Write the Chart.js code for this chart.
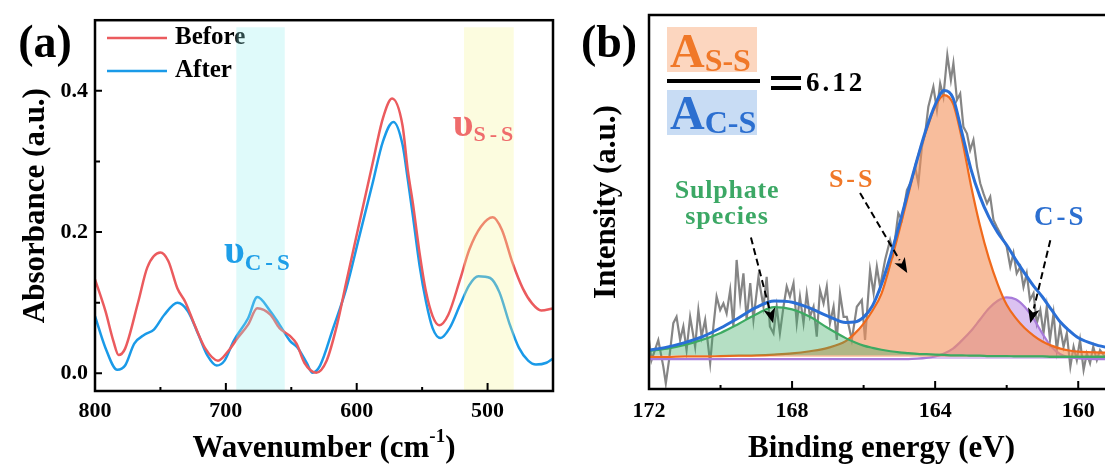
<!DOCTYPE html>
<html>
<head>
<meta charset="utf-8">
<script src="https://cdn.jsdelivr.net/npm/chart.js@4.4.1/dist/chart.umd.min.js"></script>
<style>
  html, body { margin: 0; padding: 0; background: #fff; overflow: hidden; }
  #wrap { position: relative; width: 1105px; height: 468px; overflow: hidden; }
  canvas { position: absolute; top: 0; }
  #chartA { left: 0; }
  #chartB { left: 560px; }
</style>
</head>
<body>
<div id="wrap">
  <canvas id="chartA" width="560" height="468"></canvas>
  <canvas id="chartB" width="560" height="468"></canvas>
</div>
<script>
const FONT = '"Liberation Serif", "Times New Roman", serif';
Chart.defaults.font.family = FONT;
Chart.defaults.font.weight = 'bold';
Chart.defaults.color = '#000';

// (a) FTIR spectra
const waveBefore = [800,792,786,782,777,767,760,750,744,737,731,724,716,706,698,691,683,676,666,659,651,646,640,631,623,615,608,598,588,580,573,565,561,557,552,547,542,537,530,521,514,505,496,489,481,473,466,459,450];
const absBefore = [.133,.088,.046,.026,.035,.101,.150,.171,.159,.120,.101,.069,.036,.018,.032,.050,.069,.092,.083,.064,.053,.042,.015,.001,.018,.069,.129,.213,.296,.361,.389,.351,.288,.240,.171,.115,.081,.068,.083,.133,.175,.208,.221,.203,.157,.120,.099,.089,.092];
const waveAfter = [800,792,783,777,770,762,755,747,737,729,721,714,707,701,694,683,676,666,659,651,645,638,634,628,618,608,598,588,580,572,565,561,557,552,547,542,536,529,521,514,507,498,491,483,476,469,463,455,450];
const absAfter = [.081,.036,.005,.011,.042,.055,.062,.083,.100,.088,.055,.025,.011,.018,.046,.078,.108,.088,.069,.046,.036,.014,.001,.011,.064,.120,.194,.268,.328,.356,.324,.275,.222,.153,.101,.064,.050,.064,.097,.125,.1375,.135,.115,.069,.036,.018,.0125,.015,.021];
const xTicksA = [800, 700, 600, 500];
const xMinorA = [750, 650, 550];
const yTicksA = [0, 0.2, 0.4];
const yMinorA = [0.1, 0.3];
const bandCS = [692, 655];
const bandSS = [518, 480];

// (b) XPS S 2p, raw counts and fitted components
const rawE = [172.0,171.93,171.74,171.6,171.53,171.44,171.32,171.23,171.13,171.04,170.95,170.85,170.71,170.62,170.53,170.43,170.29,170.2,170.11,170.01,169.92,169.83,169.73,169.64,169.55,169.45,169.36,169.27,169.17,169.08,168.94,168.8,168.71,168.62,168.52,168.43,168.34,168.24,168.15,168.06,167.96,167.87,167.78,167.68,167.59,167.5,167.4,167.31,167.22,167.12,167.03,166.94,166.84,166.75,166.66,166.56,
  166.47,166.33,166.19,166.05,165.96,165.82,165.72,165.63,165.54,165.40,165.26,165.17,165.03,164.93,164.79,164.65,164.56,164.47,164.37,164.28,164.19,164.05,163.95,163.86,163.77,163.66,163.56,163.49,163.39,163.30,163.21,163.11,163.02,162.93,162.83,162.74,162.65,162.55,162.46,162.37,162.28,162.18,162.09,162.00,161.90,161.81,161.72,161.62,161.53,161.44,161.35,161.25,161.16,161.06,160.97,160.88,160.79,160.69,160.60,160.51,160.41,160.32,160.22,160.13,160.04,159.95,159.85,159.76,159.67,159.58,159.48,159.39,159.25,159.1,159.0];
const rawI = [13.1,7.7,13.1,6.0,1.5,7.7,17.6,19.3,13.1,16.7,10.4,19.3,11.3,21.1,14.0,18.5,6.9,16.7,24.7,21.1,22.9,20.2,26.5,16.7,34.5,23.8,30.9,18.5,28.3,18.5,30.0,22.0,30.0,16.7,14.9,22.0,14.9,22.0,27.4,24.7,28.3,17.6,24.7,17.6,25.6,19.3,22.0,14.0,26.5,22.9,27.4,17.6,22.0,13.1,25.6,19.3,
  19.3,13.1,22.0,23.8,13.1,31.8,25.6,32.7,27.3,34.5,39.8,36.3,47.0,45.2,53.2,55.9,59.4,55.0,64.8,68.3,75.5,80.8,74.6,81.7,78.1,89.3,82.6,87.1,77.3,79.0,70.1,68.3,63.9,66.6,59.4,55.0,52.3,49.6,51.4,45.2,43.4,41.6,39.8,38.0,32.7,36.3,30.9,32.7,27.3,30.9,23.8,25.6,17.5,21.1,14.9,22.0,13.1,20.2,10.4,16.7,11.3,14.9,6.0,11.3,7.7,13.1,5.1,9.5,6.9,11.3,7.7,10.4,8.6,11.0,8.0];
const fitE = [172,171.5,171,170.5,170,169.5,169,168.5,168,167.5,167,166.5,166.25,166,165.75,165.5,165.25,165,164.75,164.5,164.25,164,163.75,163.5,163.25,163,162.75,162.5,162.25,162,161.75,161.5,161.25,161,160.75,160.5,160.25,160,159.5,159];
const envelope = [10.4,11.2,12.4,14.0,16.3,19.0,21.8,23.5,23.2,21.6,19.5,17.8,17.9,19.2,22.3,28.0,35.5,44.0,53.0,61.5,69.5,76.0,79.8,77.8,68.5,58.8,51.5,46.0,41.8,38.5,34.6,31.0,27.6,24.6,21.2,17.9,15.6,13.7,11.8,10.7];
const sulphate = [10.2,10.8,11.8,13.2,15.0,17.4,20.0,21.9,21.3,19.3,16.3,13.6,12.5,11.6,11.0,10.5,10.1,9.8,9.6,9.4,9.3,9.2,9.1,9.0,9.0,8.9,8.9,8.8,8.8,8.8,8.7,8.7,8.7,8.7,8.6,8.6,8.6,8.6,8.6,8.6];
const ssPeak = [8.6,8.6,8.7,8.7,8.8,8.9,9.0,9.2,9.5,10.1,11.0,12.8,14.8,17.5,21.0,25.5,33.5,42.5,52.0,61.5,69.0,75.5,78.6,76.3,66.8,54.5,43.8,35.0,28.0,22.5,19.0,16.3,14.3,12.7,11.6,10.8,10.3,10.0,9.8,9.7];
const csPeak = [8.0,8.0,8.0,8.0,8.0,8.0,8.0,8.0,8.0,8.0,8.0,8.0,8.0,8.0,8.0,8.0,8.0,8.0,8.0,8.1,8.3,8.7,9.5,10.8,13.0,15.5,18.5,21.5,23.6,24.5,24.0,22.0,18.8,14.8,11.3,9.3,8.5,8.2,8.0,8.0];
const xTicksB = [172, 168, 164, 160];
const xMinorB = [170, 166, 162];

const pts = (xs, ys) => xs.map((x, i) => ({x: x, y: ys[i]}));
const f = (size) => 'bold ' + size + 'px ' + FONT;

// text made of pieces: [text, size, color, dy, letterSpacing]
function rich(ctx, x, y, parts, align) {
  let w = 0;
  parts.forEach(p => {
    ctx.font = f(p[1]); ctx.letterSpacing = (p[4] || 0) + 'px';
    p.w = ctx.measureText(p[0]).width; w += p.w;
  });
  let cx = align === 'center' ? x - w / 2 : x;
  parts.forEach(p => {
    ctx.font = f(p[1]); ctx.letterSpacing = (p[4] || 0) + 'px';
    ctx.fillStyle = p[2];
    ctx.fillText(p[0], cx, y + (p[3] || 0));
    cx += p.w;
  });
  ctx.letterSpacing = '0px';
}

function arrow(ctx, x1, y1, x2, y2) {
  const ang = Math.atan2(y2 - y1, x2 - x1), head = 15, hw = 6;
  const bx = x2 - head * Math.cos(ang), by = y2 - head * Math.sin(ang);
  ctx.save();
  ctx.strokeStyle = '#000'; ctx.lineWidth = 2; ctx.setLineDash([7, 4]);
  ctx.beginPath(); ctx.moveTo(x1, y1); ctx.lineTo(bx, by); ctx.stroke();
  ctx.setLineDash([]); ctx.fillStyle = '#000';
  ctx.beginPath(); ctx.moveTo(x2, y2);
  ctx.lineTo(bx + hw * Math.sin(ang), by - hw * Math.cos(ang));
  ctx.lineTo(bx + 4 * Math.cos(ang), by + 4 * Math.sin(ang));
  ctx.lineTo(bx - hw * Math.sin(ang), by + hw * Math.cos(ang));
  ctx.closePath(); ctx.fill();
  ctx.restore();
}

// box with inward ticks
function frame(chart, xMajor, xMinor, yMajor, yMinor) {
  const {ctx, chartArea: a, scales: {x, y}} = chart;
  ctx.save();
  ctx.strokeStyle = '#000'; ctx.lineWidth = 2.5;
  ctx.strokeRect(a.left, a.top, a.right - a.left, a.bottom - a.top);
  ctx.lineWidth = 2;
  ctx.beginPath();
  xMajor.forEach(v => { const p = x.getPixelForValue(v); ctx.moveTo(p, a.bottom); ctx.lineTo(p, a.bottom - 8); });
  xMinor.forEach(v => { const p = x.getPixelForValue(v); ctx.moveTo(p, a.bottom); ctx.lineTo(p, a.bottom - 4); });
  yMajor.forEach(v => { const p = y.getPixelForValue(v); ctx.moveTo(a.left, p); ctx.lineTo(a.left + 7, p); });
  yMinor.forEach(v => { const p = y.getPixelForValue(v); ctx.moveTo(a.left, p); ctx.lineTo(a.left + 5, p); });
  ctx.stroke();
  ctx.restore();
}

const decorA = {
  id: 'decorA',
  afterDatasetsDraw(chart) {
    const {ctx, chartArea: a, scales: {x, y}} = chart;
    ctx.save();
    ctx.textBaseline = 'middle';
    chart.data.datasets.forEach((ds, i) => {
      const ly = 38 + i * 33;
      ctx.strokeStyle = ds.borderColor; ctx.lineWidth = 2.5;
      ctx.beginPath(); ctx.moveTo(a.left + 12, ly); ctx.lineTo(a.left + 72, ly); ctx.stroke();
      ctx.fillStyle = '#000'; ctx.font = f(25);
      ctx.fillText(ds.label, a.left + 80, ly);
    });
    ctx.save();
    ctx.beginPath(); ctx.rect(a.left, a.top, a.right - a.left, a.bottom - a.top); ctx.clip();
    [[bandCS, 'rgba(150,240,240,0.3)'], [bandSS, 'rgba(245,245,150,0.3)']].forEach(([b, c]) => {
      const x1 = x.getPixelForValue(b[0]), x2 = x.getPixelForValue(b[1]);
      const top = y.getPixelForValue(0.49);
      ctx.fillStyle = c; ctx.fillRect(x1, top, x2 - x1, a.bottom - top);
    });
    ctx.restore();
    rich(ctx, x.getPixelForValue(526.7), y.getPixelForValue(0.35),
      [['\u03c5', 40, '#EF6C6C', 0], ['S-S', 22, '#EF6C6C', 9, 4]]);
    rich(ctx, x.getPixelForValue(701.5), y.getPixelForValue(0.171),
      [['\u03c5', 40, '#1E9EE8', 0], ['C-S', 23, '#1E9EE8', 11, 4]]);
    ctx.restore();
  },
  afterDraw(chart) {
    const {ctx, chartArea: a} = chart;
    frame(chart, xTicksA, xMinorA, yTicksA, yMinorA);
    ctx.save();
    ctx.textBaseline = 'middle';
    rich(ctx, 45, 45, [['(a)', 46, '#000', 0]], 'center');
    rich(ctx, (a.left + a.right) / 2, 449,
      [['Wavenumber (cm', 31, '#000', 0], ['-1', 19, '#000', -12], [')', 31, '#000', 0]], 'center');
    ctx.restore();
  }
};

const decorB = {
  id: 'decorB',
  afterDatasetsDraw(chart) {
    const {ctx, scales: {x, y}} = chart;
    const px = e => x.getPixelForValue(e), py = v => y.getPixelForValue(v);
    ctx.save();
    ctx.textBaseline = 'middle';
    rich(ctx, px(169.82), py(52.9), [['Sulphate', 26, '#3CA865', 0, 0.8]], 'center');
    rich(ctx, px(169.82), py(46.0), [['species', 26, '#3CA865', 0, 1]], 'center');
    rich(ctx, px(166.32), py(55.9), [['S-S', 26, '#F07828', 0, 3]], 'center');
    rich(ctx, px(160.5), py(45.7), [['C-S', 27, '#2C6FD0', 0, 3]], 'center');
    arrow(ctx, px(169.15), py(40.5), px(168.53), py(17.6));
    arrow(ctx, px(166.1), py(52.4), px(164.78), py(31.0));
    arrow(ctx, px(160.78), py(39.8), px(161.34), py(17.6));
    ctx.restore();
  },
  afterDraw(chart) {
    const ctx = chart.ctx;
    frame(chart, xTicksB, xMinorB, [], []);
    ctx.save();
    ctx.textBaseline = 'middle';
    rich(ctx, 49, 45, [['(b)', 46, '#000', 0]], 'center');
    // ratio of peak areas
    ctx.fillStyle = '#FCD6BF'; ctx.fillRect(107, 27, 90, 45);
    ctx.fillStyle = '#C8DCF4'; ctx.fillRect(107, 90, 90, 45);
    ctx.textBaseline = 'alphabetic';
    rich(ctx, 110, 67, [['A', 48, '#F07828', 0], ['S-S', 32, '#F07828', 4]]);
    rich(ctx, 110, 129, [['A', 48, '#2C6FD0', 0], ['C-S', 32, '#2C6FD0', 4]]);
    ctx.fillStyle = '#000';
    ctx.fillRect(107, 79, 93, 4);
    ctx.fillRect(211, 76, 30, 4);
    ctx.fillRect(211, 86, 30, 4);
    rich(ctx, 246, 91, [['6.12', 27, '#000', 0, 3]]);
    ctx.restore();
  }
};

const lineDefaults = { pointRadius: 0, cubicInterpolationMode: 'monotone', fill: false };

new Chart(document.getElementById('chartA'), {
  type: 'line',
  data: {
    datasets: [
      Object.assign({label: 'Before', data: pts(waveBefore, absBefore), borderColor: '#EB5B5E', borderWidth: 2.5}, lineDefaults),
      Object.assign({label: 'After', data: pts(waveAfter, absAfter), borderColor: '#1A9AE8', borderWidth: 2.5}, lineDefaults)
    ]
  },
  options: {
    responsive: false,
    animation: false,
    events: [],
    layout: {padding: {top: 14, right: 7, left: 0, bottom: 0}},
    plugins: {legend: {display: false}, tooltip: {enabled: false}},
    scales: {
      x: {
        type: 'linear', reverse: true, min: 450, max: 800,
        afterBuildTicks: s => { s.ticks = xTicksA.map(v => ({value: v})); },
        afterFit: s => { s.height = 77; },
        grid: {display: false, drawTicks: false},
        border: {display: false},
        ticks: {font: {size: 22}, padding: 7, maxRotation: 0}
      },
      y: {
        type: 'linear', min: -0.025, max: 0.5,
        afterBuildTicks: s => { s.ticks = yTicksA.map(v => ({value: v})); },
        afterFit: s => { s.width = 95; },
        grid: {display: false, drawTicks: false},
        border: {display: false},
        ticks: {font: {size: 22}, padding: 7, callback: v => v.toFixed(1)},
        title: {display: true, text: 'Absorbance (a.u.)', font: {size: 31}, padding: {top: 17, bottom: 0}}
      }
    }
  },
  plugins: [decorA]
});

new Chart(document.getElementById('chartB'), {
  type: 'line',
  data: {
    datasets: [
      Object.assign({label: 'Raw', data: pts(rawE, rawI), borderColor: '#858585', borderWidth: 2.2, order: 5}, lineDefaults, {cubicInterpolationMode: 'default', tension: 0}),
      Object.assign({}, lineDefaults, {label: 'C-S', data: pts(fitE, csPeak), borderColor: '#A87BDA', borderWidth: 2.2, backgroundColor: 'rgba(175,120,225,0.45)', fill: {value: 8.0}, order: 4}),
      Object.assign({}, lineDefaults, {label: 'S-S', data: pts(fitE, ssPeak), borderColor: '#F06A1C', borderWidth: 2.2, backgroundColor: 'rgba(244,145,90,0.6)', fill: {value: 8.6}, order: 3}),
      Object.assign({}, lineDefaults, {label: 'Sulphate', data: pts(fitE, sulphate), borderColor: '#3DAA62', borderWidth: 2.2, backgroundColor: 'rgba(60,170,100,0.38)', fill: {value: 9.0}, order: 2}),
      Object.assign({}, lineDefaults, {label: 'Envelope', data: pts(fitE, envelope), borderColor: '#2A6FD6', borderWidth: 3, order: 1})
    ]
  },
  options: {
    responsive: false,
    animation: false,
    events: [],
    layout: {padding: {top: 15, right: 6, left: 0, bottom: 0}},
    plugins: {legend: {display: false}, tooltip: {enabled: false}},
    scales: {
      x: {
        type: 'linear', reverse: true, min: 159, max: 172,
        afterBuildTicks: s => { s.ticks = xTicksB.map(v => ({value: v})); },
        afterFit: s => { s.height = 79; },
        grid: {display: false, drawTicks: false},
        border: {display: false},
        ticks: {font: {size: 22}, padding: 9, maxRotation: 0},
        title: {display: true, text: 'Binding energy (eV)', font: {size: 31}, padding: {top: 0, bottom: 0}}
      },
      y: {
        type: 'linear', min: 0, max: 100,
        afterFit: s => { s.width = 89; },
        grid: {display: false, drawTicks: false},
        border: {display: false},
        ticks: {display: false},
        title: {display: true, text: 'Intensity (a.u.)', font: {size: 31}, padding: {top: 28, bottom: 0}}
      }
    }
  },
  plugins: [decorB]
});
</script>
</body>
</html>
